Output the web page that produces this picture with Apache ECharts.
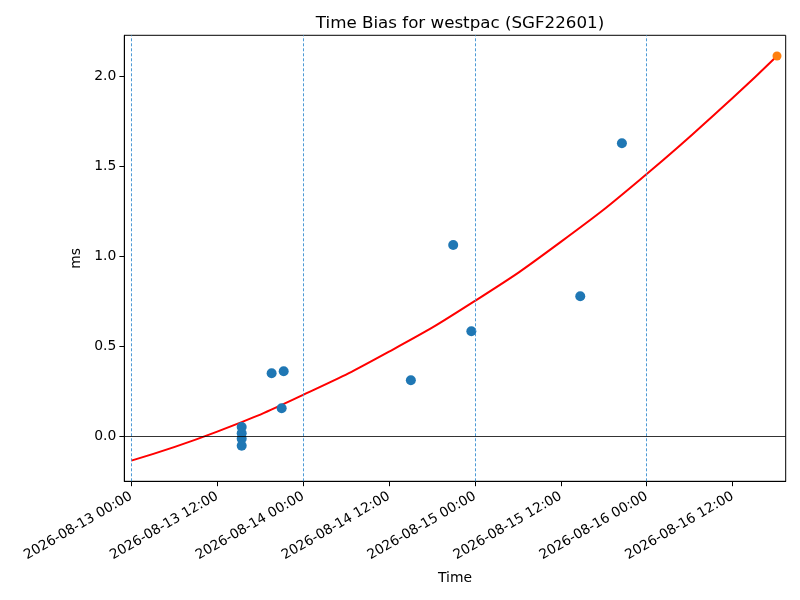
<!DOCTYPE html>
<html lang="en">
<head>
    <meta charset="UTF-8">
    <title>Time Bias for westpac (SGF22601)</title>
    <script src="https://cdn.jsdelivr.net/npm/echarts@6/dist/echarts.min.js"></script>
    <style>
        html, body { margin: 0; padding: 0; background: #fff; }
    </style>
</head>
<body>
    <div id="main" style="width: 800px; height: 600px;"></div>
    <script>
        // measured time bias (ms)
        const obsTimes = [
            '2026-08-13 15:25', '2026-08-13 15:25', '2026-08-13 15:25', '2026-08-13 15:25',
            '2026-08-13 19:36', '2026-08-13 21:17', '2026-08-13 21:00',
            '2026-08-14 15:03', '2026-08-14 20:58', '2026-08-14 23:30',
            '2026-08-15 14:43', '2026-08-15 20:32'
        ];
        const obsBias = [0.05, 0.015, -0.015, -0.054, 0.348, 0.359, 0.154, 0.309, 1.061, 0.582, 0.776, 1.626];

        // predicted end point
        const predTime = ['2026-08-16 18:12'];
        const predBias = [2.111];

        // fitted curve
        const fitTimes = [
            '2026-08-13 00:00', '2026-08-13 12:00', '2026-08-14 00:00', '2026-08-14 12:00',
            '2026-08-15 00:00', '2026-08-15 12:00', '2026-08-16 00:00', '2026-08-16 12:00',
            '2026-08-16 18:12'
        ];
        const fitBias = [-0.137, 0.024, 0.228, 0.468, 0.75, 1.078, 1.455, 1.878, 2.111];

        // day boundaries (dashed lines)
        const dayLines = ['2026-08-13 00:00', '2026-08-14 00:00', '2026-08-15 00:00', '2026-08-16 00:00'];

        // axis ticks
        const xTicks = [
            '2026-08-13 00:00', '2026-08-13 12:00', '2026-08-14 00:00', '2026-08-14 12:00',
            '2026-08-15 00:00', '2026-08-15 12:00', '2026-08-16 00:00', '2026-08-16 12:00'
        ];
        const yTicks = [0, 0.5, 1.0, 1.5, 2.0];

        // timestamps handled as UTC ms so the labels read back the same
        function ts(s) {
            const m = s.match(/(\d+)-(\d+)-(\d+) (\d+):(\d+)/);
            return Date.UTC(+m[1], +m[2] - 1, +m[3], +m[4], +m[5]);
        }
        function pad(n) { return n < 10 ? '0' + n : '' + n; }
        function fmtTime(v) {
            const d = new Date(Math.round(v));
            return d.getUTCFullYear() + '-' + pad(d.getUTCMonth() + 1) + '-' + pad(d.getUTCDate()) +
                ' ' + pad(d.getUTCHours()) + ':' + pad(d.getUTCMinutes());
        }

        const font = 'DejaVu Sans';
        const xMin = ts('2026-08-13 00:00') - 59 * 60 * 1000;
        const xMax = ts('2026-08-16 19:25');

        const chart = echarts.init(document.getElementById('main'), null, { renderer: 'canvas' });
        const option = {
            animation: false,
            backgroundColor: '#fff',
            textStyle: { fontFamily: font },
            title: {
                text: 'Time Bias for westpac (SGF22601)',
                left: 455,
                textAlign: 'center',
                top: 10,
                textStyle: { fontFamily: font, fontSize: 16.7, fontWeight: 'normal', color: '#000' }
            },
            grid: {
                left: 124.3, right: 14.3, top: 35.3, bottom: 118.7,
                show: true, borderColor: '#000', borderWidth: 1, backgroundColor: 'transparent'
            },
            xAxis: {
                type: 'value',
                min: xMin,
                max: xMax,
                scale: true,
                name: 'Time',
                nameLocation: 'middle',
                nameGap: 90,
                nameTextStyle: { fontFamily: font, fontSize: 13.9, color: '#000' },
                axisLine: { show: true, onZero: false, lineStyle: { color: '#000', width: 1 } },
                axisTick: {
                    show: true, inside: false, length: 4.9,
                    lineStyle: { color: '#000', width: 1 },
                    customValues: xTicks.map(ts)
                },
                axisLabel: {
                    rotate: 30,
                    fontFamily: font, fontSize: 13.6, color: '#000', margin: 14,
                    customValues: xTicks.map(ts),
                    formatter: function (v) { return fmtTime(v); }
                },
                splitLine: { show: false }
            },
            yAxis: {
                type: 'value',
                min: -0.252,
                max: 2.226,
                name: 'ms',
                nameLocation: 'middle',
                nameGap: 37,
                nameTextStyle: { fontFamily: font, fontSize: 13.9, color: '#000' },
                axisLine: { show: true, onZero: false, lineStyle: { color: '#000', width: 1 } },
                axisTick: {
                    show: true, inside: false, length: 4.9,
                    lineStyle: { color: '#000', width: 1 },
                    customValues: yTicks
                },
                axisLabel: {
                    fontFamily: font, fontSize: 13.9, color: '#000', margin: 8,
                    customValues: yTicks,
                    formatter: function (v) { return v.toFixed(1); }
                },
                splitLine: { show: false }
            },
            series: [
                {
                    name: 'fit',
                    type: 'line',
                    data: fitTimes.map((t, i) => [ts(t), fitBias[i]]),
                    smooth: 0.5,
                    showSymbol: false,
                    lineStyle: { color: '#ff0000', width: 2 },
                    z: 3,
                    markLine: {
                        silent: true,
                        symbol: 'none',
                        label: { show: false },
                        data: dayLines.map(d => ({
                            xAxis: ts(d),
                            lineStyle: { color: '#3a8fd0', width: 0.9, type: [3, 2] }
                        })).concat([{
                            yAxis: 0,
                            lineStyle: { color: '#000', width: 0.8, type: 'solid' }
                        }])
                    }
                },
                {
                    name: 'bias',
                    type: 'scatter',
                    data: obsTimes.map((t, i) => [ts(t), obsBias[i]]),
                    symbolSize: 10,
                    itemStyle: { color: '#1f77b4', opacity: 1 },
                    z: 4
                },
                {
                    name: 'predicted',
                    type: 'scatter',
                    data: predTime.map((t, i) => [ts(t), predBias[i]]),
                    symbolSize: 9,
                    itemStyle: { color: '#ff7f0e', opacity: 1 },
                    z: 5
                }
            ]
        };
        chart.setOption(option);
    </script>
</body>
</html>
